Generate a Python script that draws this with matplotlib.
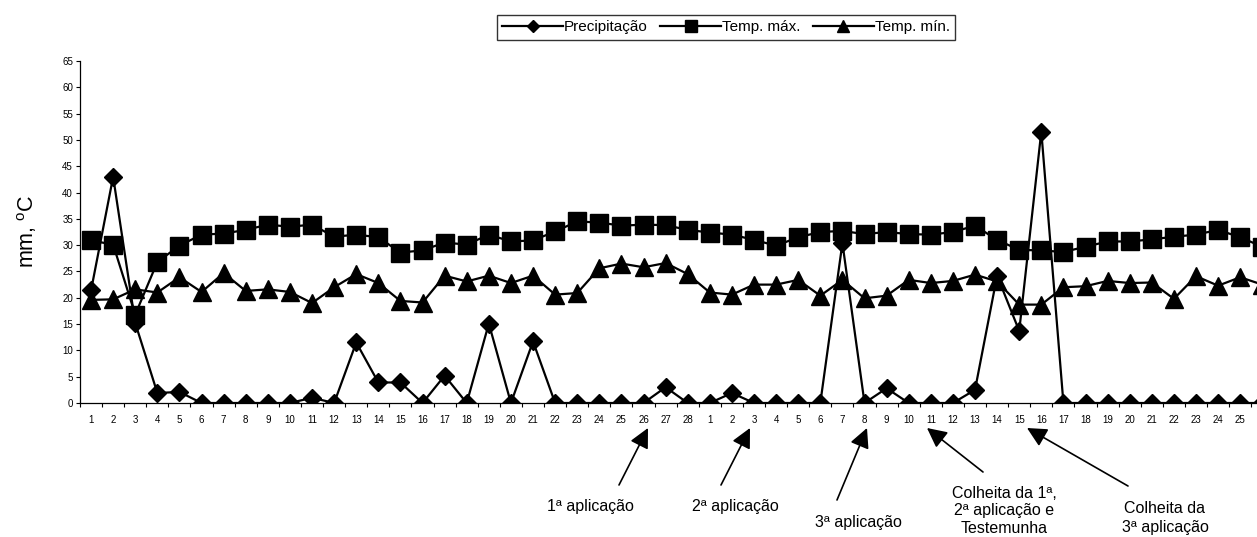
import matplotlib
matplotlib.use('Agg')
import matplotlib.pyplot as plt

plt.rcParams['font.family'] = ['Liberation Sans', 'DejaVu Sans']
plt.rcParams['mathtext.default'] = 'regular'

# days: February 1-28, then March 1-26 (last one is cut at the right edge)
day_labels = [str(d) for d in range(1, 29)] + [str(d) for d in range(1, 27)]

precipitacao = [21.4, 43.0, 15.2, 1.9, 2.1, 0, 0, 0, 0, 0, 1.0, 0, 11.5, 3.9,
                3.9, 0, 5.2, 0, 15.1, 0, 11.7, 0, 0, 0, 0, 0, 3.0, 0,
                0, 1.9, 0, 0, 0, 0, 30.4, 0, 2.8, 0, 0, 0, 2.5, 24.2,
                13.7, 51.6, 0, 0, 0, 0, 0, 0, 0, 0, 0, 0]
temp_max = [30.9, 30.1, 16.8, 26.8, 29.9, 32.0, 32.2, 32.9, 33.9, 33.5, 33.9, 31.6, 32.0, 31.5,
            28.6, 29.0, 30.5, 30.1, 32.0, 30.7, 30.9, 32.6, 34.5, 34.3, 33.7, 33.9, 33.8, 32.9,
            32.4, 32.0, 31.0, 29.9, 31.5, 32.5, 32.7, 32.1, 32.5, 32.1, 32.0, 32.5, 33.7, 31.0,
            29.1, 29.0, 28.7, 29.7, 30.7, 30.7, 31.1, 31.6, 32.0, 32.9, 31.5, 29.7]
temp_min = [19.6, 19.7, 21.6, 21.0, 23.9, 21.1, 24.7, 21.3, 21.6, 21.1, 19.0, 22.0, 24.5, 22.8,
            19.4, 19.1, 24.2, 23.1, 24.2, 22.8, 24.2, 20.6, 20.9, 25.6, 26.5, 25.8, 26.6, 24.5,
            21.0, 20.6, 22.5, 22.5, 23.4, 20.4, 23.4, 19.9, 20.4, 23.4, 22.8, 23.2, 24.4, 23.1,
            18.7, 18.7, 22.0, 22.2, 23.2, 22.8, 22.9, 19.8, 24.1, 22.3, 23.9, 22.5]

x = list(range(1, len(day_labels) + 1))

W, H = 1257, 537
fig = plt.figure(figsize=(W / 100, H / 100), dpi=100)
ax = fig.add_axes([80 / W, 134 / H, 1 - 80 / W, 342 / H])

l1, = ax.plot(x, precipitacao, color='black', lw=1.6, marker='D', ms=9.5, zorder=4)
l2, = ax.plot(x, temp_max, color='black', lw=1.6, marker='s', ms=13, zorder=2)
l3, = ax.plot(x, temp_min, color='black', lw=1.6, marker='^', ms=13, zorder=3)

ax.set_yticks(range(0, 70, 5))
ax.set_xticks(x)
ax.set_xticklabels(day_labels)
ax.set_xticks([i + 0.5 for i in range(0, len(x) + 1)], minor=True)
ax.set_xlim(0.5, 53.76)
ax.set_ylim(0, 65)
ax.tick_params(axis='x', which='major', length=0, pad=8.5, labelsize=7)
ax.tick_params(axis='x', which='minor', length=3, direction='out', width=0.8)
ax.tick_params(axis='y', length=3, direction='out', width=0.8, pad=2, labelsize=7)

for s in ['top', 'right']:
    ax.spines[s].set_visible(False)
for s in ['left', 'bottom']:
    ax.spines[s].set_linewidth(0.9)

fig.text(27 / W, 1 - 231 / H, 'mm, $^{\\mathregular{o}}$C', rotation=90,
         ha='center', va='center', fontsize=15.5)

leg = fig.legend([l1, l2, l3], ['Precipitação', 'Temp. máx.', 'Temp. mín.'],
                 loc='upper left', bbox_to_anchor=(497 / W, 1 - 15 / H), ncol=3,
                 fontsize=11, handlelength=4, handletextpad=0.05, columnspacing=0.8,
                 borderpad=0.35, markerscale=0.65, frameon=True, fancybox=False,
                 borderaxespad=0)
leg.get_frame().set_edgecolor('black')
leg.get_frame().set_linewidth(1)

# labels under the axis: text, text centre, arrow tail, arrow tip (pixels)
notes = [
    ('1ª aplicação', (590, 507), (619, 485), (648, 428)),
    ('2ª aplicação', (735, 507), (721, 485), (750, 428)),
    ('3ª aplicação', (858, 522), (837, 500), (867, 428)),
    ('Colheita da 1ª,\n2ª aplicação e\nTestemunha', (1004, 511), (983, 472), (927, 428)),
    ('Colheita da\n3ª aplicação', (1165, 518), (1128, 486), (1027, 428)),
]
for txt, (tx, ty), (ax0, ay0), (ax1, ay1) in notes:
    ls = 1.4 if txt.startswith('Colheita da\n') else 1.2
    fig.text(tx / W, 1 - ty / H, txt, ha='center', va='center', fontsize=11.5,
             multialignment='center', linespacing=ls)
    ax.annotate('', xy=(ax1, H - ay1), xytext=(ax0, H - ay0),
                xycoords='figure pixels', textcoords='figure pixels',
                arrowprops=dict(arrowstyle='-|>', color='black', lw=1.2,
                                mutation_scale=30, shrinkA=0, shrinkB=0),
                annotation_clip=False)

fig.savefig('out.png', dpi=100)
